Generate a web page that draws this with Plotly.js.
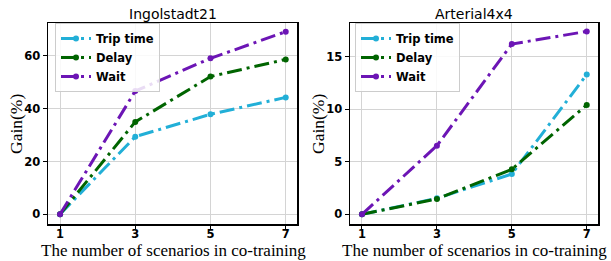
<!DOCTYPE html>
<html><head><meta charset="utf-8">
<script src="https://cdn.plot.ly/plotly-3.0.1.min.js"></script>
<style>html,body{margin:0;padding:0;background:#fff}#c{width:611px;height:261px}</style>
</head><body><div id="c"></div>
<script>
const scenarios = [1, 3, 5, 7];
const seriesNames = ["Trip time", "Delay", "Wait"];
const ingTrip = [0, 29.4, 37.9, 44.3];
const ingDelay = [0, 35.0, 52.2, 58.7];
const ingWait = [0, 46.7, 59.1, 69.2];
const artTrip = [0, 1.52, 3.84, 13.3];
const artDelay = [0, 1.46, 4.28, 10.4];
const artWait = [0, 6.53, 16.2, 17.4];
const titles = ["Ingolstadt21", "Arterial4x4"];
const xTitle = "The number of scenarios in co-training";
const yTitle = "Gain(%)";
const colors = ["#22afd7", "#006400", "#6c15b5"];

function tr(y, i, ax, show) {
  return {x: scenarios, y: y, name: seriesNames[i], xaxis: 'x' + ax, yaxis: 'y' + ax,
    type: 'scatter', mode: 'lines+markers', showlegend: show, legend: ax === '' ? 'legend' : 'legend2',
    line: {color: colors[i], width: 3, dash: '15px,5px,3px,5px'},
    marker: {color: colors[i], size: 6, symbol: 'circle'}};
}
const data = [
  tr(ingTrip, 0, '', true), tr(ingDelay, 1, '', true), tr(ingWait, 2, '', true),
  tr(artTrip, 0, '2', true), tr(artDelay, 1, '2', true), tr(artWait, 2, '2', true)
];
const tickFont = {family: 'DejaVu Sans', size: 11.5, color: '#000', weight: 'bold'};
function xa(dom) {
  return {domain: dom, range: [0.68, 7.3], tickvals: scenarios, ticktext: scenarios.map(String),
    showgrid: true, gridcolor: '#d4d4d4', gridwidth: 1, zeroline: false,
    showline: true, mirror: true, linecolor: '#000', linewidth: 1.5,
    ticks: 'outside', ticklen: 3.5, tickwidth: 1, tickcolor: '#000', tickfont: tickFont,
    ticklabelstandoff: -5};
}
function ya(dom, rng, tv, anchor) {
  return {domain: dom, range: rng, tickvals: tv, anchor: anchor,
    showgrid: true, gridcolor: '#d4d4d4', gridwidth: 1, zeroline: false,
    showline: true, mirror: true, linecolor: '#000', linewidth: 1.5,
    ticks: 'outside', ticklen: 4, tickwidth: 1, tickcolor: '#000', tickfont: tickFont};
}
const yd = [1 - 224/261, 1 - 23/261];
const legFont = {family: 'DejaVu Sans', size: 11.5, color: '#000', weight: 'bold'};
function leg(x) {
  return {x: x, y: 1 - 23/261, xanchor: 'left', yanchor: 'top', bgcolor: 'rgba(255,255,255,0.85)',
    bordercolor: '#cccccc', borderwidth: 1, font: legFont, tracegroupgap: 0, itemwidth: 30};
}
const layout = {
  width: 611, height: 261, margin: {l: 0, r: 0, t: 0, b: 0},
  paper_bgcolor: '#fff', plot_bgcolor: '#fff',
  xaxis: xa([48/611, 297/611]),
  yaxis: ya(yd, [-3.7, 72.5], [0, 20, 40, 60], 'x'),
  xaxis2: Object.assign(xa([350/611, 598/611]), {anchor: 'y2'}),
  yaxis2: ya(yd, [-0.92, 18.2], [0, 5, 10, 15], 'x2'),
  legend: leg(55/611),
  legend2: leg(355/611),
  annotations: [
    {text: titles[0], x: 172.5/611, y: 1 - 14/261, xref: 'paper', yref: 'paper', showarrow: false,
      xanchor: 'center', yanchor: 'middle', font: {family: 'DejaVu Sans', size: 14, color: '#000'}},
    {text: titles[1], x: 474/611, y: 1 - 14/261, xref: 'paper', yref: 'paper', showarrow: false,
      xanchor: 'center', yanchor: 'middle', font: {family: 'DejaVu Sans', size: 14, color: '#000'}},
    {text: xTitle, x: 173/611, y: 1 - 250.5/261, xref: 'paper', yref: 'paper', showarrow: false,
      xanchor: 'center', yanchor: 'middle', font: {family: 'Liberation Serif', size: 17, color: '#000'}},
    {text: xTitle, x: 474/611, y: 1 - 250.5/261, xref: 'paper', yref: 'paper', showarrow: false,
      xanchor: 'center', yanchor: 'middle', font: {family: 'Liberation Serif', size: 17, color: '#000'}},
    {text: yTitle, x: 16/611, y: 1 - 124/261, xref: 'paper', yref: 'paper', showarrow: false, textangle: -90,
      xanchor: 'center', yanchor: 'middle', font: {family: 'Liberation Serif', size: 17.5, color: '#000'}},
    {text: yTitle, x: 318/611, y: 1 - 124/261, xref: 'paper', yref: 'paper', showarrow: false, textangle: -90,
      xanchor: 'center', yanchor: 'middle', font: {family: 'Liberation Serif', size: 17.5, color: '#000'}}
  ]
};
Plotly.newPlot('c', data, layout, {staticPlot: true, displayModeBar: false});
</script></body></html>
